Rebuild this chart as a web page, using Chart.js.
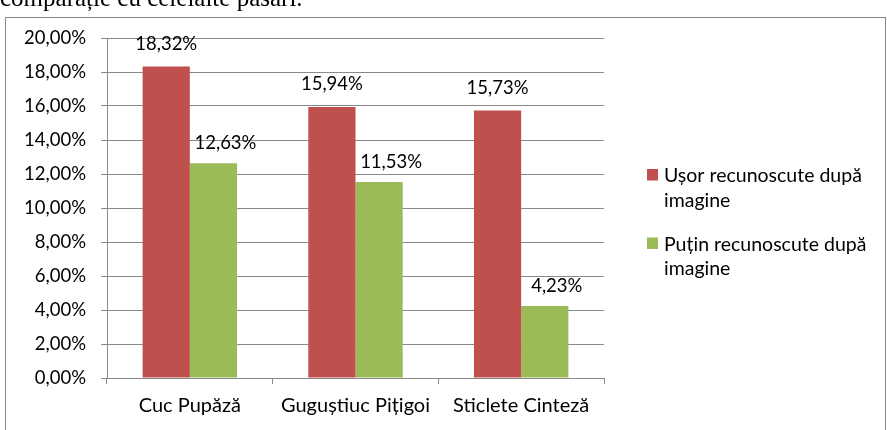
<!DOCTYPE html>
<html>
<head>
<meta charset="utf-8">
<script src="https://cdn.jsdelivr.net/npm/chart.js@4"></script>
<style>
  html, body { margin: 0; padding: 0; background: #fff; overflow: hidden; }
  #wrap { position: relative; width: 887px; height: 430px; }
  #caption {
    position: absolute; left: 0; top: -15px; white-space: nowrap;
    font: 25px/25px "Liberation Serif", serif; color: #000;
  }
  #chart { position: absolute; left: 0; top: 0; }
</style>
</head>
<body>
<div id="wrap">
  <canvas id="chart" width="887" height="430"></canvas>
  <div id="caption">comparație cu celelalte păsări.</div>
</div>
<script>
const categories = ["Cuc Pupăză", "Guguștiuc Pițigoi", "Sticlete Cinteză"]
const seriesNames = ["Ușor recunoscute după imagine", "Puțin recunoscute după imagine"]
const easyValues = [18.32, 15.94, 15.73]
const hardValues = [12.63, 11.53, 4.23]
const yTicks = [0, 2, 4, 6, 8, 10, 12, 14, 16, 18, 20]

const RED = "#C0504D"
const GREEN = "#9BBB59"
const GRID = "#8a8a8a"

const fmt = (v) => v.toFixed(2).replace(".", ",") + "%"

Chart.defaults.font.family = "Lato"
Chart.defaults.font.size = 18.5
Chart.defaults.color = "#000"

// rama exterioara a graficului
const framePlugin = {
  id: "frame",
  beforeDraw(chart) {
    const { ctx } = chart
    ctx.save()
    ctx.strokeStyle = "#888"
    ctx.lineWidth = 1
    ctx.strokeRect(5.5, 17.5, 880, 440)
    ctx.restore()
  }
}

// valorile deasupra coloanelor
const valueLabels = {
  id: "valueLabels",
  afterDatasetsDraw(chart) {
    const { ctx } = chart
    const nudges = [{ dx: 0, dy: -17 }, { dx: 12, dy: -14 }]
    ctx.save()
    ctx.fillStyle = "#000"
    ctx.font = "18.5px Lato"
    ctx.textAlign = "center"
    ctx.textBaseline = "alphabetic"
    chart.data.datasets.forEach((ds, i) => {
      chart.getDatasetMeta(i).data.forEach((bar, j) => {
        ctx.fillText(fmt(ds.data[j]), bar.x + nudges[i].dx, bar.y + nudges[i].dy)
      })
    })
    ctx.restore()
  }
}

// legenda pe doua randuri, in dreapta
const sideLegend = {
  id: "sideLegend",
  afterDraw(chart) {
    const { ctx } = chart
    const tops = [169, 237.5]
    ctx.save()
    ctx.font = "19.5px Lato"
    ctx.textAlign = "left"
    ctx.textBaseline = "alphabetic"
    chart.data.datasets.forEach((ds, i) => {
      const y0 = tops[i]
      ctx.fillStyle = ds.backgroundColor
      ctx.fillRect(647, y0, 11, 11.5)
      ctx.fillStyle = "#000"
      const words = ds.label.split(" ")
      const first = words.slice(0, -1).join(" ")
      const second = words[words.length - 1]
      ctx.fillText(first, 664, y0 + 13)
      ctx.fillText(second, 664, y0 + 37.5)
    })
    ctx.restore()
  }
}

new Chart(document.getElementById("chart"), {
  type: "bar",
  data: {
    labels: categories,
    datasets: [
      { label: seriesNames[0], data: easyValues, backgroundColor: RED },
      { label: seriesNames[1], data: hardValues, backgroundColor: GREEN }
    ]
  },
  options: {
    responsive: false,
    animation: false,
    devicePixelRatio: 1,
    layout: { padding: { left: 0, top: 38, right: 283, bottom: 0 } },
    datasets: { bar: { barPercentage: 1, categoryPercentage: 0.57 } },
    plugins: {
      legend: { display: false },
      tooltip: { enabled: false }
    },
    scales: {
      x: {
        afterFit: (scale) => { scale.height = 52 },
        grid: { offset: true, drawOnChartArea: false, drawTicks: true, tickLength: 6, color: GRID },
        border: { color: GRID },
        ticks: { padding: 10, font: { size: 20 } }
      },
      y: {
        min: 0,
        max: 20,
        afterFit: (scale) => { scale.width = 107 },
        afterBuildTicks: (scale) => { scale.ticks = yTicks.map((v) => ({ value: v })) },
        grid: { color: GRID, tickLength: 6 },
        border: { color: GRID },
        ticks: { padding: 15, font: { size: 18.5 }, callback: (v) => fmt(v) }
      }
    }
  },
  plugins: [framePlugin, valueLabels, sideLegend]
})
</script>
</body>
</html>
